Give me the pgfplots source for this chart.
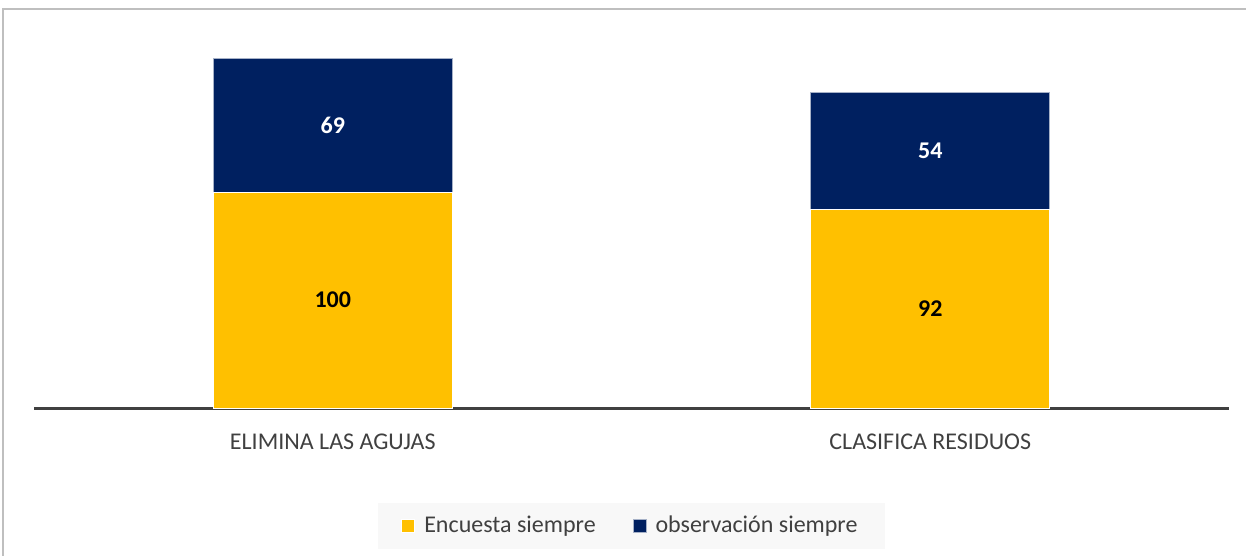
\documentclass[border=0pt]{standalone}
\usepackage{fontspec}
\setmainfont{Carlito}
\usepackage{pgfplots}
\pgfplotsset{compat=1.18}

\definecolor{amarillo}{HTML}{FFC000}
\definecolor{marino}{HTML}{002060}
\definecolor{gristexto}{HTML}{404040}
\definecolor{marco}{HTML}{BFBFBF}
\definecolor{fondoley}{HTML}{F8F8F8}

\begin{document}
\begin{tikzpicture}
\useasboundingbox (-17pt,-74pt) rectangle (606pt,204pt);
% chart frame (only top and left edges fall inside the picture)
\draw[marco, line width=0.7pt] (-15.5pt,-74pt) -- (-15.5pt,199.5pt) -- (606pt,199.5pt);

\begin{axis}[
    scale only axis,
    width=597.5pt,
    height=194.4pt,
    ybar stacked,
    bar width=119.5pt,
    xmin=-0.5, xmax=1.5,
    ymin=0, ymax=180,
    axis y line=none,
    axis x line*=bottom,
    x axis line style={gristexto, line width=1.5pt, -},
    xtick={0,1},
    xticklabels={ELIMINA LAS AGUJAS, CLASIFICA RESIDUOS},
    major tick length=0pt,
    xticklabel style={font=\fontsize{12}{14}\selectfont, text=gristexto, anchor=base, yshift=-20.5pt},
    legend style={
        at={(0.5,0)}, anchor=center, yshift=-59pt, xshift=0pt,
        fill=fondoley, draw=none,
        font=\fontsize{12}{14}\selectfont, text=gristexto,
        legend columns=2,
        inner xsep=11.5pt, inner ysep=4.5pt,
        /tikz/every odd column/.append style={column sep=2.5pt},
        /tikz/every even column/.append style={column sep=16.5pt},
    },
    legend image code/.code={
        \draw[#1] (0pt,-3.25pt) rectangle (6.5pt,3.25pt);
    },
]

% Encuesta siempre
\addplot[fill=amarillo, draw=white, line width=0.4pt] coordinates {
    (0, 100) (1, 92)
};
\addlegendentry{Encuesta siempre}

% observacion siempre (altura dibujada del primer segmento ~62, rotulo 69)
\addplot[fill=marino, draw=white!65!marino, line width=0.4pt] coordinates {
    (0, 62) (1, 54)
};
\addlegendentry{observación siempre}

% anchor points for the data labels
\coordinate (e1) at (axis cs:0, 50);
\coordinate (o1) at (axis cs:0, 131);
\coordinate (e2) at (axis cs:1, 46);
\coordinate (o2) at (axis cs:1, 119);
\end{axis}

\tikzset{etiq/.style={font=\bfseries\fontsize{12}{14}\selectfont}}
\node[etiq, text=black] at (e1) {100};
\node[etiq, text=white] at (o1) {69};
\node[etiq, text=black] at (e2) {92};
\node[etiq, text=white] at (o2) {54};
\end{tikzpicture}
\end{document}
